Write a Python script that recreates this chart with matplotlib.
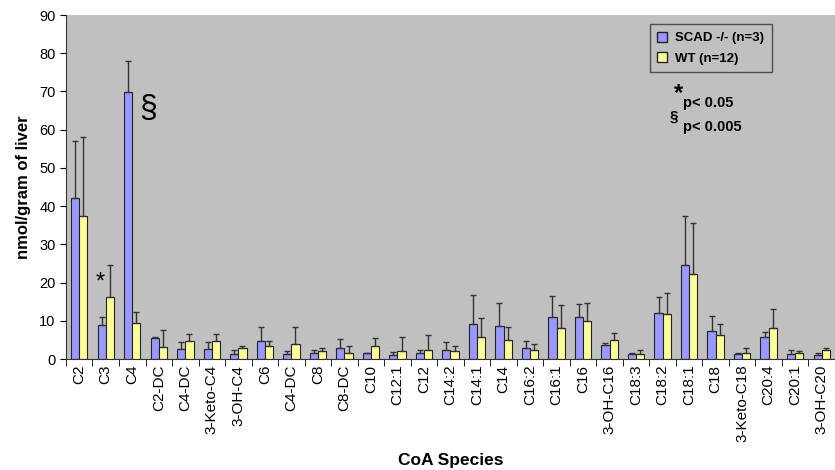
import matplotlib
matplotlib.use("Agg")
import matplotlib.pyplot as plt
import numpy as np
from matplotlib.patches import Patch

plt.rcParams['font.family'] = ['Liberation Sans', 'DejaVu Sans']

# especes CoA
especes = ["C2", "C3", "C4", "C2-DC", "C4-DC", "3-Keto-C4", "3-OH-C4", "C6", "C4-DC",
           "C8", "C8-DC", "C10", "C12:1", "C12", "C14:2", "C14:1", "C14", "C16:2",
           "C16:1", "C16", "3-OH-C16", "C18:3", "C18:2", "C18:1", "C18", "3-Keto-C18",
           "C20:4", "C20:1", "3-OH-C20"]

# SCAD -/- (moyenne et haut de la barre d'erreur)
scad = [42.1, 9.0, 69.8, 5.6, 2.6, 2.6, 1.2, 4.6, 1.2, 1.6, 2.8, 1.6, 1.0, 1.7, 2.5,
        9.3, 8.6, 3.0, 10.9, 10.9, 3.6, 1.3, 12.0, 24.5, 7.4, 1.3, 5.7, 1.4, 1.0]
scad_haut = [57.1, 11.1, 78.1, 5.7, 4.4, 4.4, 2.4, 8.3, 2.0, 2.3, 5.2, 1.7, 1.8, 2.5, 4.5,
             16.7, 14.7, 4.8, 16.4, 14.5, 4.3, 1.7, 16.2, 37.5, 11.3, 1.7, 7.0, 2.5, 1.6]

# WT
wt = [37.5, 16.3, 9.4, 3.1, 4.8, 4.8, 2.9, 3.3, 3.9, 2.0, 1.7, 3.5, 2.0, 2.5, 2.0,
      5.9, 5.0, 2.3, 8.2, 10.0, 5.1, 1.4, 11.8, 22.2, 6.4, 1.6, 8.2, 1.7, 2.3]
wt_haut = [58.0, 24.5, 12.2, 7.5, 6.5, 6.5, 3.3, 4.6, 8.5, 3.0, 3.5, 5.4, 5.7, 6.4, 3.5,
           10.8, 8.4, 4.0, 14.2, 14.7, 6.9, 2.4, 17.3, 35.5, 9.1, 3.0, 13.1, 2.1, 3.0]

x = np.arange(len(especes))
scad = np.array(scad)
wt = np.array(wt)
err_scad = np.array(scad_haut) - scad
err_wt = np.array(wt_haut) - wt

fig = plt.figure(figsize=(8.35, 4.70), dpi=100)
ax = fig.add_axes([0.079, 0.236, 0.921, 0.732])
ax.set_facecolor("#c0c0c0")

w = 0.31
ax.bar(x - w / 2, scad, w, color="#9999ff", edgecolor="#222222", linewidth=0.8,
       yerr=[np.zeros_like(err_scad), err_scad], error_kw=dict(ecolor="#333333", elinewidth=1, capsize=2.5, capthick=1),
       zorder=2)
ax.bar(x + w / 2, wt, w, color="#ffff99", edgecolor="#222222", linewidth=0.8,
       yerr=[np.zeros_like(err_wt), err_wt], error_kw=dict(ecolor="#333333", elinewidth=1, capsize=2.5, capthick=1),
       zorder=2)

ax.set_xlim(-0.5, len(especes) - 0.5)
ax.set_ylim(0, 90)
ax.set_yticks(np.arange(0, 91, 10))
ax.tick_params(axis="y", labelsize=10.5, length=4, direction="out")

ax.set_xticks(x)
ax.set_xticklabels(especes, rotation=90, fontsize=11)
ax.tick_params(axis="x", which="major", length=0, pad=4)
ax.set_xticks(np.arange(-0.5, len(especes), 1), minor=True)
ax.tick_params(axis="x", which="minor", length=5, direction="out")

ax.spines["top"].set_visible(False)
ax.spines["right"].set_visible(False)
ax.spines["left"].set_color("#333333")
ax.spines["bottom"].set_color("#333333")

ax.set_ylabel("nmol/gram of liver", fontsize=12, fontweight="bold", labelpad=6)
ax.set_xlabel("CoA Species", fontsize=12.5, fontweight="bold", labelpad=8)

# annotations
ax.text(0.78, 20.0, "*", fontsize=17, ha="center", va="center")
ax.text(2.6, 65.5, "§", fontsize=23, ha="center", va="center")
ax.text(22.58, 69.5, "*", fontsize=17, fontweight="bold", ha="center", va="center")
ax.text(22.78, 67.0, "p< 0.05", fontsize=10.5, fontweight="bold", ha="left", va="center")
ax.text(22.43, 63.5, "§", fontsize=11, fontweight="bold", ha="center", va="center")
ax.text(22.75, 60.8, "p< 0.005", fontsize=10.5, fontweight="bold", ha="left", va="center")

handles = [Patch(facecolor="#9999ff", edgecolor="#222222", label="SCAD -/- (n=3)"),
           Patch(facecolor="#ffff99", edgecolor="#222222", label="WT (n=12)")]
leg = ax.legend(handles=handles, loc="upper left", bbox_to_anchor=(0.759, 0.973),
                prop=dict(size=9.5, weight="bold"), frameon=True, fancybox=False,
                handlelength=0.8, handleheight=0.8, handletextpad=0.6, borderpad=0.55,
                labelspacing=0.6, borderaxespad=0)
leg.get_frame().set_facecolor("#c0c0c0")
leg.get_frame().set_edgecolor("#333333")
leg.get_frame().set_linewidth(1)

fig.savefig("out.png", dpi=100)
